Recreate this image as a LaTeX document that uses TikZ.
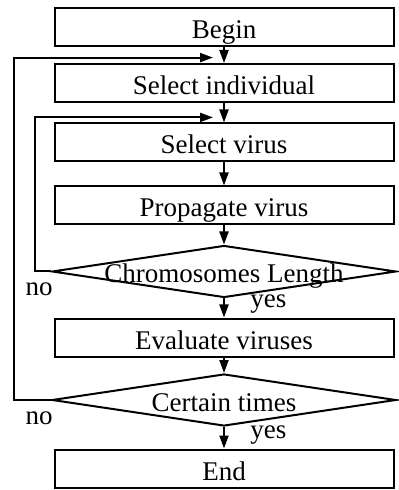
\documentclass[tikz,border=0pt]{standalone}
\usepackage{fontspec}
\setmainfont{Liberation Serif}
\usetikzlibrary{shapes.geometric, arrows.meta, positioning, calc}

\begin{document}
\begin{tikzpicture}[
    x=0.5pt, y=-0.5pt,
    box/.style={draw, line width=1pt, minimum width=169.5pt, minimum height=19pt, inner sep=0pt,
        text height=11.5pt, text depth=0pt, font=\fontsize{13.5}{15}\selectfont},
    decision/.style={draw, diamond, line width=1pt, minimum width=172pt, minimum height=26pt, inner sep=0pt},
    dtext/.style={inner sep=0pt, text height=11pt, text depth=0pt, font=\fontsize{13.5}{15}\selectfont},
    arrow/.style={-{Triangle[length=6.5pt, width=4.5pt]}, line width=1pt},
    lbl/.style={font=\fontsize{13.5}{15}\selectfont, inner sep=0pt}
]
    \useasboundingbox (0,0) rectangle (399,490);
    \node[box] (begin) at (224,27) {Begin};
    \node[box] (indiv) at (224,83) {Select individual};
    \node[box] (virus) at (224,142.5) {Select virus};
    \node[box] (prop) at (224,205.5) {Propagate virus};
    \node[decision] (chklen) at (224,271.5) {};
    \node[dtext] (chklentxt) at (chklen) {Chromosomes Length};
    \node[box] (eval) at (224,337.5) {Evaluate viruses};
    \node[decision] (chktimes) at (224,400) {};
    \node[dtext] (chktimestxt) at (chktimes) {Certain times};
    \node[box] (end) at (224,468.5) {End};

    % junctions where the loops come back in
    \coordinate (jouter) at ($(begin.south)!0.66!(indiv.north)$);
    \coordinate (jinner) at ($(indiv.south)!0.74!(virus.north)$);

    \draw[arrow] (begin) -- (indiv);
    \draw[arrow] (indiv) -- (virus);
    \draw[arrow] (virus) -- (prop);
    \draw[arrow] (prop) -- (chklen);
    \draw[arrow] (chklen) -- (eval);
    \draw[arrow] (eval) -- (chktimes);
    \draw[arrow] (chktimes) -- (end);

    % loops
    \draw[arrow] (chklen.west) -- ++(-16,0) |- ([xshift=-5.5pt]jinner);
    \draw[arrow] (chktimes.west) -- ++(-37,0) |- ([xshift=-5.5pt]jouter);

    \node[lbl] (no1) at ($(chklen.west)+(-12,17.5)$) {no};
    \node[lbl, anchor=west] (yes1) at ($(chklen.south)+(26,6)$) {yes};
    \node[lbl] (no2) at ($(chktimes.west)+(-12,18)$) {no};
    \node[lbl, anchor=west] (yes2) at ($(chktimes.south)+(26,8)$) {yes};
\end{tikzpicture}
\end{document}
